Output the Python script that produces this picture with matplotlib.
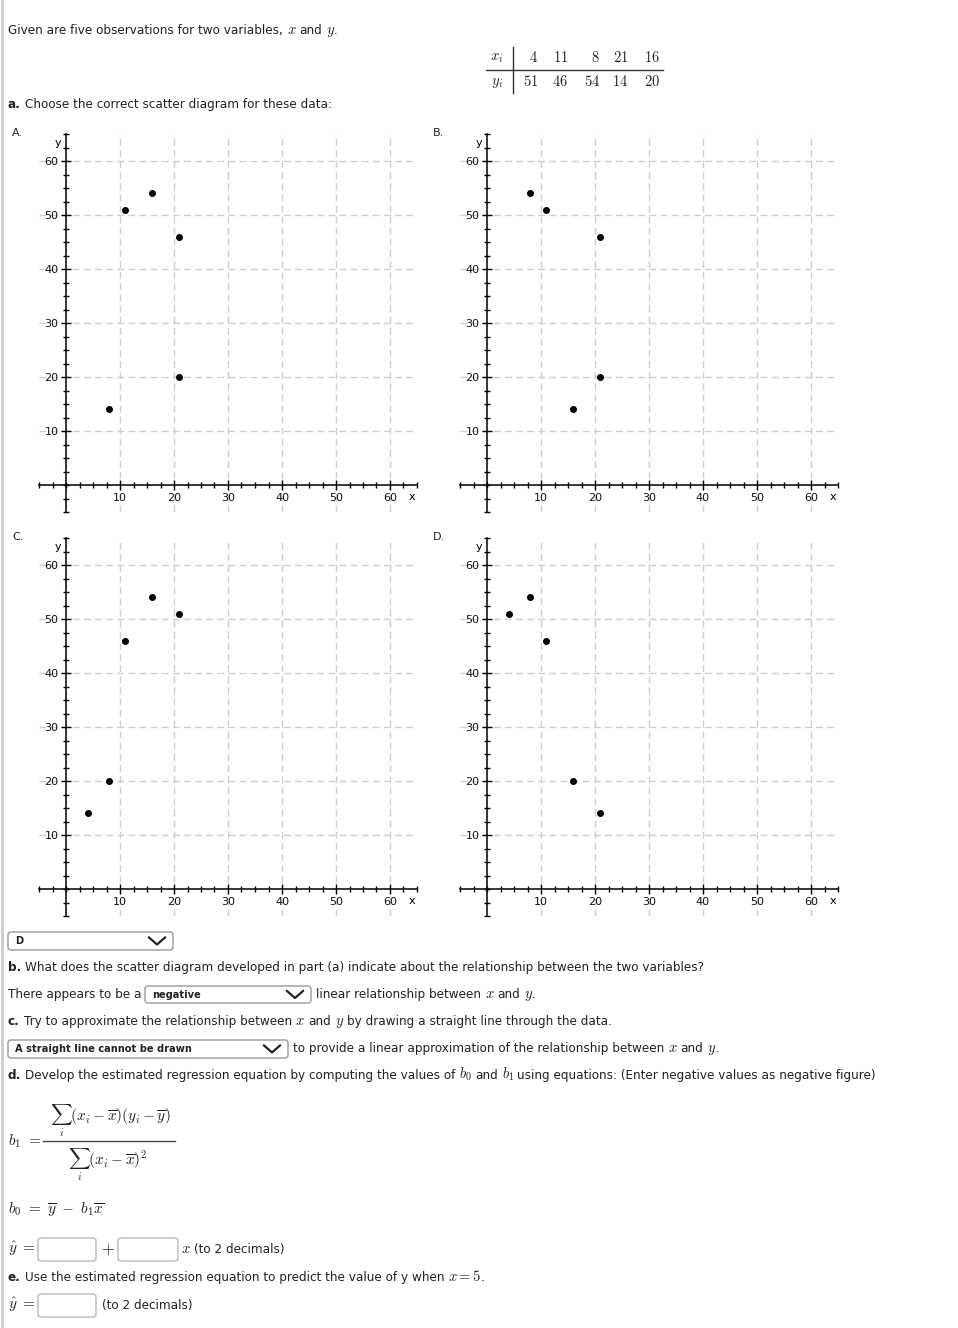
import numpy as np
import matplotlib
matplotlib.use("Agg")
import matplotlib.pyplot as plt
from matplotlib.patches import FancyBboxPatch
from matplotlib.lines import Line2D
from matplotlib.ticker import MultipleLocator

plt.rcParams['font.family'] = ['DejaVu Sans']
plt.rcParams['mathtext.fontset'] = 'cm'

W, H = 958, 1328

# observations
x_obs = [4, 11, 8, 21, 16]
y_obs = [51, 46, 54, 14, 20]

# the four scatter diagrams to choose from
opt_names = ['A.', 'B.', 'C.', 'D.']
opt_x = [[11, 16, 21, 21, 8], [8, 11, 21, 16, 21], [11, 16, 21, 8, 4], x_obs]
opt_y = [[51, 54, 46, 20, 14], [54, 51, 46, 14, 20], [46, 54, 51, 20, 14], y_obs]

tick_vals = [10, 20, 30, 40, 50, 60]

answer_a = 'D'
answer_b = 'negative'
answer_c = 'A straight line cannot be drawn'
x_pred = 5

TXT = '#222222'
FS = 8.62
IMFS = 10.5  # inline math
MFS = 11  # standalone formulas

fig = plt.figure(figsize=(W / 100, H / 100), dpi=100)
renderer = fig.canvas.get_renderer()


def fx(x):
    return x / W


def fy(y):
    return 1 - y / H


def txt(x, y, s, **kw):
    kw.setdefault('fontsize', FS)
    kw.setdefault('color', TXT)
    kw.setdefault('va', 'center')
    return fig.text(fx(x), fy(y), s, **kw)


def rich(x, y, parts):
    # parts: plain strings, '$..$' math strings, or ('**', text) for bold
    base = y + 4
    space = 0.318 * FS * 100 / 72
    for p in parts:
        kw = dict(va='baseline')
        if isinstance(p, tuple):
            p = p[1]
            kw['fontweight'] = 'bold'
        s = p.strip(' ')
        lead = len(p) - len(p.lstrip(' '))
        trail = len(p) - len(p.rstrip(' '))
        x += lead * space
        if s.startswith('$'):
            kw['fontsize'] = IMFS
        t = txt(x, base, s, **kw)
        w = t.get_window_extent(renderer).width
        if s.startswith('$'):
            w -= 1
        x += w + trail * space


def line(xs, ys, **kw):
    fig.add_artist(Line2D([fx(v) for v in xs], [fy(v) for v in ys],
                          transform=fig.transFigure, **kw))


def box(x0, x1, y0, y1, ec='#999999'):
    b = FancyBboxPatch((fx(x0), fy(y1)), fx(x1) - fx(x0), fy(y0) - fy(y1),
                       boxstyle='round,pad=0,rounding_size=0.003',
                       mutation_aspect=W / H, transform=fig.transFigure,
                       fc='white', ec=ec, lw=1)
    fig.add_artist(b)


def dropdown(x0, x1, y0, y1, label):
    box(x0, x1, y0, y1)
    cy = (y0 + y1) / 2
    txt(x0 + 7, cy + 0.5, label, fontsize=7.1, fontweight='bold')
    cx = x1 - 16
    line([cx - 8, cx, cx + 8], [cy - 3.5, cy + 3.5, cy - 3.5], color='#222222', lw=1.6)


# grey left border of the page
line([1.5, 1.5], [0, H], color='#cccccc', lw=2)

rich(8, 30, ['Given are five observations for two variables, ', '$x$', ' and ', '$y$', '.'])

# data table
col_right = [538, 568, 600, 628, 660]
txt(497, 58, '$x_i$', fontsize=10.5, ha='center')
txt(497, 82, '$y_i$', fontsize=10.5, ha='center')
for cx, xv, yv in zip(col_right, x_obs, y_obs):
    txt(cx, 58, '$%d$' % xv, fontsize=10.5, ha='right')
    txt(cx, 82, '$%d$' % yv, fontsize=10.5, ha='right')
line([513, 513], [47, 93], color='#333333', lw=1)
line([486, 663], [70, 70], color='#333333', lw=1)

rich(8, 104, [('**', 'a. '), 'Choose the correct scatter diagram for these data:'])

# scatter panels
origins = [(66, 485), (487, 485), (66, 889), (487, 889)]
for name, xs, ys, (ox, oy) in zip(opt_names, opt_x, opt_y, origins):
    ax = fig.add_axes([fx(ox - 27), fy(oy + 27), 378 / W, 378 / H])
    ax.set_xlim(-5, 65)
    ax.set_ylim(-5, 65)
    ax.patch.set_alpha(0)
    for s in ['top', 'right']:
        ax.spines[s].set_visible(False)
    ax.spines['left'].set_position(('data', 0))
    ax.spines['bottom'].set_position(('data', 0))
    for s in ['left', 'bottom']:
        ax.spines[s].set_linewidth(1.1)
    ax.set_xticks(tick_vals)
    ax.set_yticks(tick_vals)
    ax.xaxis.set_minor_locator(MultipleLocator(2.5))
    ax.yaxis.set_minor_locator(MultipleLocator(2.5))
    ax.grid(True, which='major', color='#cfcfcf', linestyle=(0, (5, 3)), linewidth=1)
    ax.tick_params(which='major', direction='inout', length=7, width=1,
                   labelsize=8, pad=2, labelcolor='#111111')
    ax.tick_params(which='minor', direction='inout', length=4, width=1)
    ax.scatter(xs, ys, s=16, color='black', zorder=5, clip_on=False)
    ax.text(-1.5, 63.3, 'y', fontsize=8, ha='center', va='center')
    ax.text(64.1, -2.2, 'x', fontsize=8, ha='center', va='center')
    txt(ox - 54, oy - 352, name, fontsize=8)

dropdown(8, 173, 932, 950, answer_a)

rich(8, 967, [('**', 'b. '), 'What does the scatter diagram developed in part (a) indicate about '
              'the relationship between the two variables?'])

rich(8, 994, ['There appears to be a'])
dropdown(145, 311, 986, 1003, answer_b)
rich(316, 994, ['linear relationship between ', '$x$', ' and ', '$y$', '.'])

rich(8, 1021, [('**', 'c. '), 'Try to approximate the relationship between ', '$x$', ' and ',
               '$y$', ' by drawing a straight line through the data.'])

dropdown(8, 288, 1040, 1058, answer_c)
rich(293, 1048, ['to provide a linear approximation of the relationship between ', '$x$',
                 ' and ', '$y$', '.'])

rich(8, 1075, [('**', 'd. '), 'Develop the estimated regression equation by computing the values of ',
               '$b_0$', ' and ', '$b_1$',
               ' using equations: (Enter negative values as negative figure)'])

# b1 formula
txt(8, 1141, r'$b_1\ =$', fontsize=MFS)
txt(110, 1121, r'$\sum_i(x_i-\overline{x})(y_i-\overline{y})$', fontsize=MFS,
    ha='center', va='baseline')
txt(108, 1165, r'$\sum_i(x_i-\overline{x})^2$', fontsize=MFS, ha='center', va='baseline')
line([43, 175], [1141, 1141], color='#444444', lw=1)

txt(8, 1210, r'$b_0\ =\ \overline{y}\ -\ b_1\overline{x}$', fontsize=MFS)

txt(8, 1249, r'$\hat{y}\ =$', fontsize=MFS)
box(38, 96, 1238, 1261, ec='#bbbbbb')
txt(101, 1249, '$+$', fontsize=12)
box(118, 178, 1238, 1261, ec='#bbbbbb')
rich(181, 1249, ['$x$', ' (to 2 decimals)'])

rich(8, 1277, [('**', 'e. '), 'Use the estimated regression equation to predict the value of y when ',
               '$x = %d$' % x_pred, '.'])

txt(8, 1305, r'$\hat{y}\ =$', fontsize=MFS)
box(38, 96, 1294, 1317, ec='#bbbbbb')
rich(102, 1305, ['(to 2 decimals)'])

fig.savefig('out.png', dpi=100)
